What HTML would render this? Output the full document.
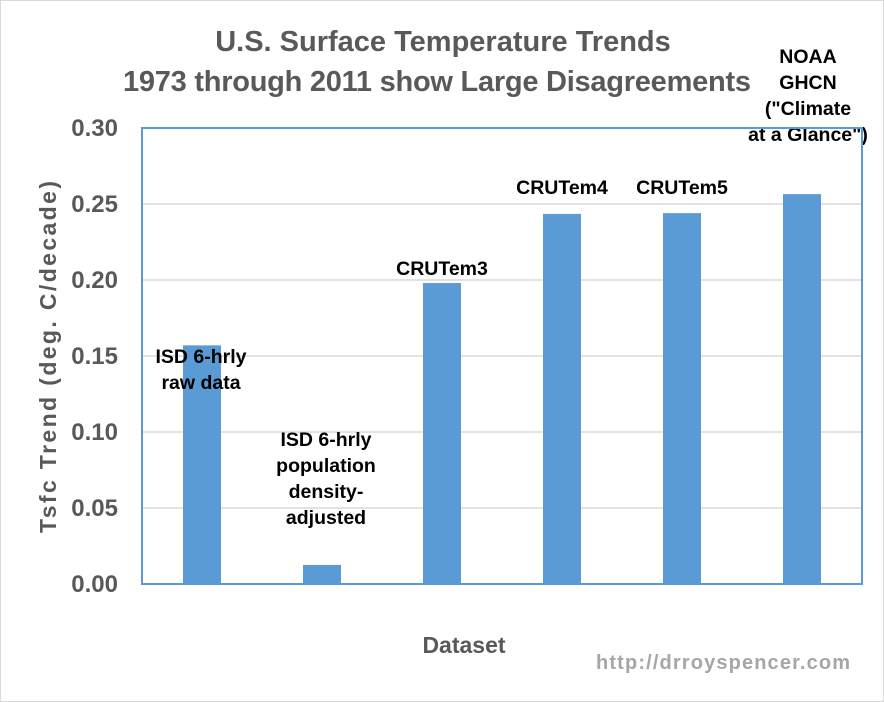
<!DOCTYPE html>
<html><head><meta charset="utf-8"><style>
html,body{margin:0;padding:0;background:#fff}
svg{display:block;font-family:"Liberation Sans",sans-serif}
</style></head><body>
<svg id="chart" width="884" height="702" xmlns="http://www.w3.org/2000/svg">
<rect x="0.5" y="0.5" width="883" height="701" fill="#fff" stroke="#d9d9d9"/>
<text x="443" y="51" text-anchor="middle" font-size="29" font-weight="bold" fill="#595959">U.S. Surface Temperature Trends</text>
<text x="437" y="91" text-anchor="middle" font-size="29" font-weight="bold" fill="#595959" textLength="628">1973 through 2011 show Large Disagreements</text>
<g id="grid"></g>
<g id="bars"></g>
<g id="labels"></g>
<g id="yticks"></g>
<rect x="142" y="128" width="720" height="456" fill="none" stroke="#5b9bd5" stroke-width="2"/>
<text transform="translate(56,357) rotate(-90)" text-anchor="middle" font-size="23" font-weight="bold" fill="#595959" textLength="352">Tsfc Trend (deg. C/decade)</text>
<text x="464" y="653" text-anchor="middle" font-size="23" font-weight="bold" fill="#595959">Dataset</text>
<text x="723" y="669" text-anchor="middle" font-size="20" font-weight="bold" fill="#a6a6a6" textLength="254">http://drroyspencer.com</text>
</svg>
<script>
const categories=["ISD raw","ISD pop-adj","CRUTem3","CRUTem4","CRUTem5","NOAA GHCN"];
const values=[0.157,0.0125,0.198,0.2435,0.244,0.2565];
const yTicks=[0,0.05,0.10,0.15,0.20,0.25,0.30];
const yTickLabels=["0.00","0.05","0.10","0.15","0.20","0.25","0.30"];
const barLabels=[["ISD 6-hrly","raw data"],["ISD 6-hrly","population","density-","adjusted"],["CRUTem3"],["CRUTem4"],["CRUTem5"],["NOAA","GHCN","(\"Climate","at a Glance\")"]];
const labelTopY=[363,446,275,194,194,63];
const NS="http://www.w3.org/2000/svg";
const x0=142,x1=862,yTop=128,yBot=584;
const y=v=>yBot-(v/0.30)*(yBot-yTop);
const bw=(x1-x0)/categories.length;
const xc=i=>x0+bw*(i+0.5);
const grid=document.getElementById('grid'),bars=document.getElementById('bars'),labels=document.getElementById('labels'),yt=document.getElementById('yticks');
yTicks.forEach((t,i)=>{
  if(t>0&&t<0.30){const l=document.createElementNS(NS,'line');
  l.setAttribute('x1',x0);l.setAttribute('x2',x1);l.setAttribute('y1',y(t));l.setAttribute('y2',y(t));
  l.setAttribute('stroke','#d9d9d9');l.setAttribute('stroke-width','1.5');
  
  
  grid.appendChild(l);}
  const tx=document.createElementNS(NS,'text');
  tx.setAttribute('x',118);tx.setAttribute('y',y(t)+8);tx.setAttribute('text-anchor','end');
  tx.setAttribute('font-size','24');tx.setAttribute('font-weight','bold');tx.setAttribute('fill','#595959');
  tx.textContent=yTickLabels[i];
  
  
  yt.appendChild(tx);
});
values.forEach((v,i)=>{
  const r=document.createElementNS(NS,'rect');
  r.setAttribute('x',xc(i)-19);r.setAttribute('width',38);r.setAttribute('y',y(v));r.setAttribute('height',yBot-y(v));
  r.setAttribute('fill','#5b9bd5');
  
  
  bars.appendChild(r);
  const t=document.createElementNS(NS,'text');
  t.setAttribute('text-anchor','middle');t.setAttribute('font-size','19.5');t.setAttribute('font-weight','bold');t.setAttribute('fill','#000');
  
  
  barLabels[i].forEach((s,j)=>{const ts=document.createElementNS(NS,'tspan');ts.setAttribute('x',xc(i)+(i==1?4:(i==0?-1:(i==5?6:0))));ts.setAttribute('y',labelTopY[i]+j*26);ts.textContent=s;t.appendChild(ts);});
  labels.appendChild(t);
});
</script>
</body></html>
